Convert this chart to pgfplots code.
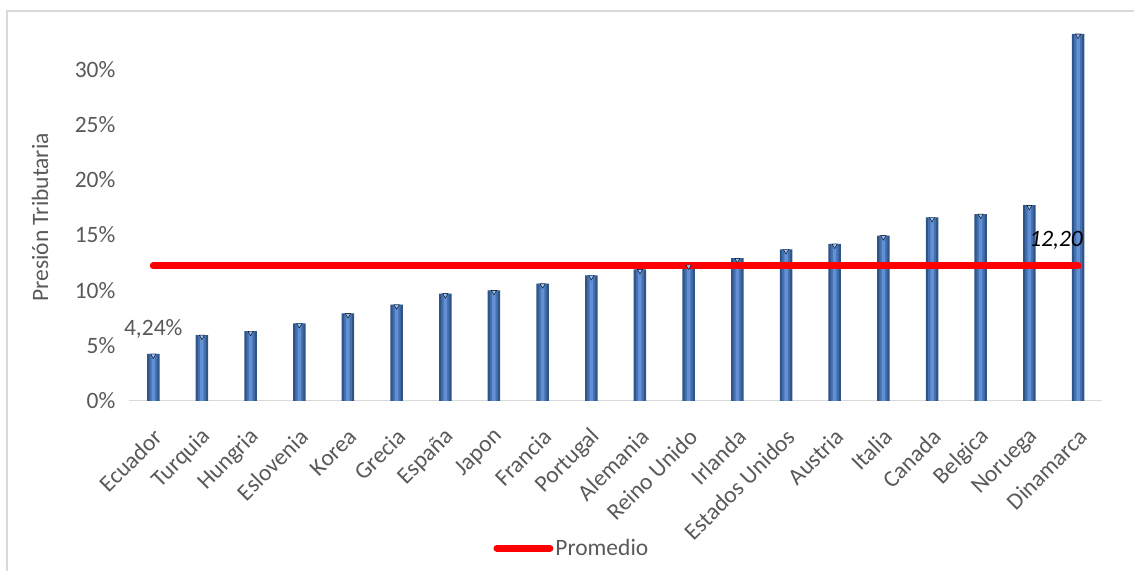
\documentclass[border=0pt]{standalone}
\usepackage{pgfplots}
\usepackage{pgfplotstable}
\pgfplotsset{compat=1.18}
\usepackage{fontspec}
\setmainfont{Carlito}
\definecolor{txt}{HTML}{595959}
\definecolor{bardark}{HTML}{2F5488}
\definecolor{barmid}{HTML}{4470B0}
\definecolor{barlight}{HTML}{6390D2}
\definecolor{bartop}{HTML}{9CC0EE}
\definecolor{axgrey}{HTML}{D9D9D9}
\pgfplotstableread{
x y
0 4.24
1 5.95
2 6.3
3 7.0
4 7.9
5 8.7
6 9.7
7 10.0
8 10.6
9 11.35
10 11.9
11 12.3
12 12.9
13 13.7
14 14.2
15 14.95
16 16.6
17 16.9
18 17.7
19 33.2
}\datatable
\begin{document}
\begin{tikzpicture}
\path (0pt,0pt) rectangle (1135pt,571pt);
\draw[axgrey, line width=1.3pt] (7pt,0pt) -- (7pt,560pt) -- (1135pt,560pt);
\begin{axis}[
  at={(129pt,170pt)}, anchor=south west,
  scale only axis, width=974pt, height=367pt,
  xmin=-0.5, xmax=19.5, ymin=0, ymax=33.2,
  xtick={0,...,19},
  xticklabels={Ecuador,Turquia,Hungria,Eslovenia,Korea,Grecia,España,Japon,Francia,Portugal,Alemania,Reino Unido,Irlanda,Estados Unidos,Austria,Italia,Canada,Belgica,Noruega,Dinamarca},
  ytick={0,5,10,15,20,25,30},
  yticklabels={0\%,5\%,10\%,15\%,20\%,25\%,30\%},
  axis y line*=left, y axis line style={draw=none},
  axis x line*=bottom, x axis line style={axgrey, line width=1.3pt},
  major tick length=0pt,
  font=\fontsize{23.5}{26}\selectfont,
  tick label style={txt},
  yticklabel style={xshift=-10pt},
  xticklabel style={rotate=45, anchor=east, xshift=10pt},
  xticklabel shift=37pt,
  ylabel={Presión Tributaria},
  every axis y label/.style={at={(rel axis cs:0,0.5)}, xshift=-89pt, rotate=90, anchor=center, txt},
  clip=false,
  legend style={at={(rel axis cs:0.455,-0.402)}, anchor=center, draw=none, fill=none,
    font=\fontsize{23.5}{26}\selectfont\color{txt}, inner sep=0pt},
  legend image code/.code={\draw[#1, line cap=round] (0pt,0pt) -- (53pt,0pt);},
]
\addplot[ybar, bar width=12.5pt, draw=none, fill=bardark, forget plot] table[x=x,y=y]{\datatable};
\addplot[ybar, bar width=8pt, draw=none, fill=barmid, forget plot] table[x=x,y=y]{\datatable};
\addplot[ybar, bar width=3.5pt, draw=none, fill=barlight, forget plot] table[x=x,y=y]{\datatable};
\addplot[only marks, mark=triangle*, mark size=3pt, draw=none, fill=bartop, mark options={draw=none, fill=bartop, rotate=180, yshift=1.6pt}, forget plot] table[x=x,y=y]{\datatable};
\addplot[red, line width=7pt, line cap=round] coordinates {
(0,12.2) (1,12.2) (2,12.2) (3,12.2) (4,12.2) (5,12.2) (6,12.2) (7,12.2) (8,12.2) (9,12.2)
(10,12.2) (11,12.2) (12,12.2) (13,12.2) (14,12.2) (15,12.2) (16,12.2) (17,12.2) (18,12.2) (19,12.2)
};
\addlegendentry{Promedio}
\node[txt, anchor=south] at (axis cs:0,5.3) {4,24\%};
\node[black, anchor=center, font=\fontsize{23.5}{26}\selectfont\itshape] at (axis cs:18.55,14.5) {12,20};
\end{axis}
\end{tikzpicture}
\end{document}
